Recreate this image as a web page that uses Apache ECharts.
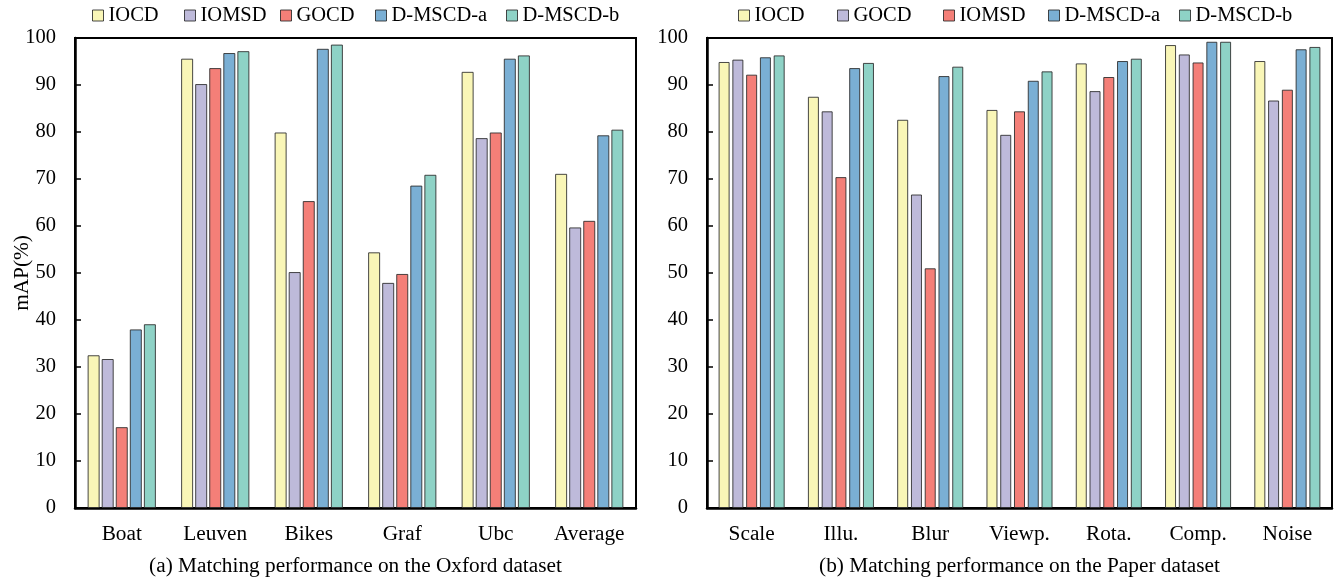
<!DOCTYPE html>
<html>
<head>
<meta charset="utf-8">
<script src="https://cdn.jsdelivr.net/npm/echarts@6/dist/echarts.min.js"></script>
<style>
  html, body { margin: 0; padding: 0; background: #fff; }
  #chart { width: 1339px; height: 583px; }
</style>
</head>
<body>
<div id="chart"></div>
<script>
// Oxford dataset
const oxfordCategories = ['Boat', 'Leuven', 'Bikes', 'Graf', 'Ubc', 'Average'];
const oxfordIOCD   = [32.5, 95.6, 79.9, 54.4, 92.8, 71.1];
const oxfordIOMSD  = [31.7, 90.2, 50.2, 47.9, 78.7, 59.7];
const oxfordGOCD   = [17.2, 93.6, 65.3, 49.8, 79.9, 61.1];
const oxfordDMSCDa = [38.0, 96.8, 97.7, 68.6, 95.6, 79.3];
const oxfordDMSCDb = [39.1, 97.2, 98.6, 70.9, 96.3, 80.5];

// Paper dataset
const paperCategories = ['Scale', 'Illu.', 'Blur', 'Viewp.', 'Rota.', 'Comp.', 'Noise'];
const paperIOCD   = [94.9, 87.5, 82.6, 84.7, 94.6, 98.5, 95.1];
const paperGOCD   = [95.4, 84.4, 66.7, 79.4, 88.7, 96.5, 86.7];
const paperIOMSD  = [92.2, 70.4, 51.0, 84.4, 91.7, 94.8, 89.0];
const paperDMSCDa = [95.9, 93.6, 91.9, 90.9, 95.1, 99.2, 97.6];
const paperDMSCDb = [96.3, 94.7, 93.9, 92.9, 95.6, 99.2, 98.1];

const yMin = 0, yMax = 100, yStep = 10;
const captionA = '(a) Matching performance on the Oxford dataset';
const captionB = '(b) Matching performance on the Paper dataset';
const yName = 'mAP(%)';

// layout / style
const palette = ['#F9F6B7', '#BEBADA', '#F47F78', '#7AAFD4', '#8ED2C6'];
const FONT = 'Liberation Serif';
const FS_AXIS = 21.3;
const FS_TICK = 20.5;
const FS_LEGEND = 20.5;
const legendLeftA = [92, 184, 280, 375, 506];
const legendLeftB = [738, 837, 943, 1048, 1179];

const oxfordSeries = [
  ['IOCD', oxfordIOCD], ['IOMSD', oxfordIOMSD], ['GOCD', oxfordGOCD],
  ['D-MSCD-a', oxfordDMSCDa], ['D-MSCD-b', oxfordDMSCDb]
];
const paperSeries = [
  ['IOCD', paperIOCD], ['GOCD', paperGOCD], ['IOMSD', paperIOMSD],
  ['D-MSCD-a', paperDMSCDa], ['D-MSCD-b', paperDMSCDb]
];

const barBorder = { borderColor: 'rgba(40,40,40,0.85)', borderWidth: 1 };

function makeSeries(list, axisIdx, gap, catGap) {
  return list.map(([name, data], i) => ({
    name: name,
    type: 'bar',
    xAxisIndex: axisIdx,
    yAxisIndex: axisIdx,
    data: data,
    barGap: gap,
    barCategoryGap: catGap,
    itemStyle: Object.assign({ color: palette[i] }, barBorder),
    emphasis: { disabled: true }
  }));
}

// one legend component per entry so each key sits at its own spot
function makeLegends(list, lefts) {
  return list.map(([name], i) => ({
    left: lefts[i],
    top: 5,
    padding: 0,
    itemWidth: 11,
    itemHeight: 11,
    icon: 'rect',
    selectedMode: false,
    textStyle: { fontFamily: FONT, fontSize: FS_LEGEND, color: '#000' },
    data: [{
      name: name,
      itemStyle: Object.assign({ color: palette[i] }, barBorder)
    }]
  }));
}

function xAxis(cats, gridIdx, caption) {
  return {
    type: 'category',
    gridIndex: gridIdx,
    data: cats,
    axisLine: { lineStyle: { color: '#000', width: 2.5 } },
    axisTick: { show: false },
    axisLabel: { fontFamily: FONT, fontSize: FS_AXIS, color: '#000', margin: 16 },
    name: caption,
    nameLocation: 'middle',
    nameGap: 48,
    nameMoveOverlap: false,
    nameTextStyle: { fontFamily: FONT, fontSize: FS_AXIS, color: '#000' }
  };
}

function yAxis(gridIdx, withName) {
  const ax = {
    type: 'value',
    gridIndex: gridIdx,
    min: yMin,
    max: yMax,
    interval: yStep,
    axisLine: { show: true, lineStyle: { color: '#000', width: 2.5 } },
    axisTick: { show: true, inside: true, length: 6, lineStyle: { color: '#000', width: 1.5 } },
    axisLabel: { fontFamily: FONT, fontSize: FS_TICK, color: '#000', margin: 19 },
    splitLine: { show: false }
  };
  if (withName) {
    ax.name = yName;
    ax.nameLocation = 'middle';
    ax.nameGap = 42;
    ax.nameMoveOverlap = false;
    ax.nameTextStyle = { fontFamily: FONT, fontSize: FS_AXIS, color: '#000' };
  }
  return ax;
}

const gridBase = { top: 38, height: 470, show: true, borderColor: '#000', borderWidth: 2, backgroundColor: 'transparent', outerBoundsMode: 'none', containLabel: false };

const chart = echarts.init(document.getElementById('chart'), null, { renderer: 'canvas' });
chart.setOption({
  backgroundColor: '#fff',
  animation: false,
  textStyle: { fontFamily: FONT },
  legend: [...makeLegends(oxfordSeries, legendLeftA), ...makeLegends(paperSeries, legendLeftB)],
  grid: [
    Object.assign({ left: 75, width: 561 }, gridBase),
    Object.assign({ left: 707, width: 625 }, gridBase)
  ],
  xAxis: [xAxis(oxfordCategories, 0, captionA), xAxis(paperCategories, 1, captionB)],
  yAxis: [yAxis(0, true), yAxis(1, false)],
  series: [
    ...makeSeries(oxfordSeries, 0, '17%', '27%'),
    ...makeSeries(paperSeries, 1, '25%', '26%')
  ]
});
</script>
</body>
</html>
